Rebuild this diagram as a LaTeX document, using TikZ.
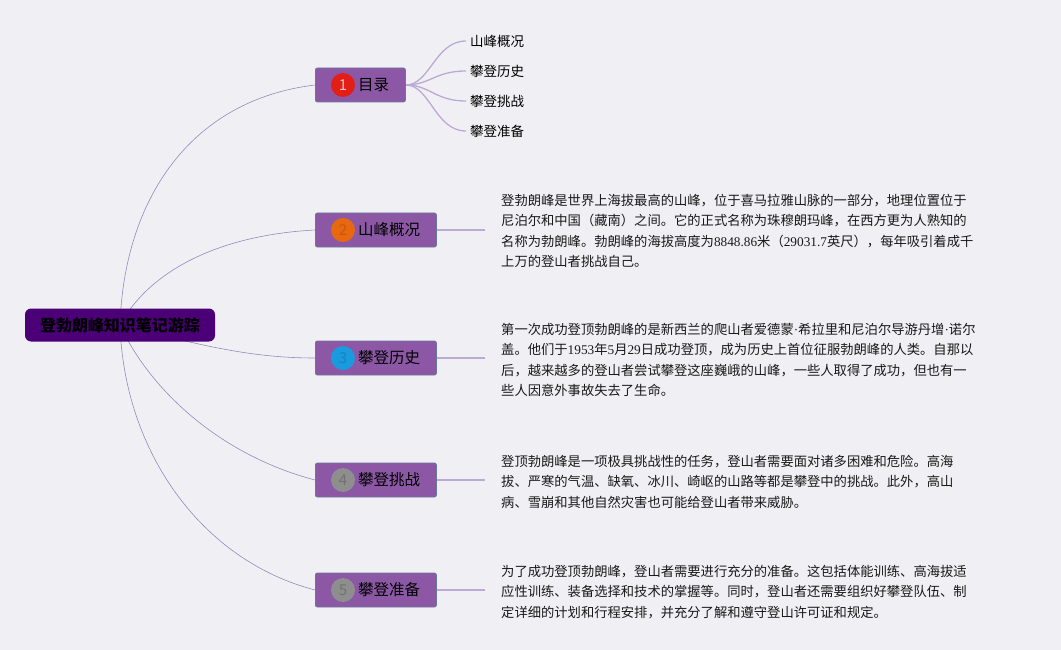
\documentclass[tikz,border=0pt]{standalone}
\usepackage{fontspec}
\setmainfont{Noto Sans CJK SC}
\newfontfamily\latin{Liberation Serif}
\newcommand{\lt}[1]{{\latin #1}}
\definecolor{bgc}{RGB}{240,240,244}
\definecolor{rootfill}{RGB}{75,0,120}
\definecolor{boxfill}{RGB}{140,88,166}
\definecolor{boxdraw}{RGB}{108,118,150}
\definecolor{rootline}{RGB}{150,136,192}
\definecolor{subline}{RGB}{188,170,214}
\definecolor{cred}{RGB}{226,30,22}
\definecolor{corange}{RGB}{232,104,16}
\definecolor{cblue}{RGB}{26,155,224}
\definecolor{cgray}{RGB}{142,142,142}
\pgfdeclarelayer{back}
\pgfdeclarelayer{mid}
\pgfsetlayers{back,mid,main}
\tikzset{
  rootbox/.style={fill=rootfill, rounded corners=6pt, minimum width=190pt, minimum height=33pt, inner sep=0pt, font=\bfseries\fontsize{16}{19}\selectfont, text=black},
  childbox/.style={anchor=west, fill=boxfill, draw=boxdraw, line width=0.8pt, rounded corners=2pt, minimum width=121pt, minimum height=34pt, inner sep=0pt},
  numcirc/.style={circle, minimum size=24pt, inner sep=0pt, font=\fontsize{15}{15}\selectfont},
  childlabel/.style={anchor=west, inner sep=0pt, font=\fontsize{15.5}{18}\selectfont, text=black},
  sublabel/.style={anchor=west, inner sep=4pt, font=\fontsize{13.5}{16}\selectfont, text=black},
  para/.style={anchor=north west, inner sep=0pt, align=left, font=\fontsize{13.3}{20.3}\selectfont, text=black!90},
  rline/.style={draw=rootline, line width=0.6pt},
  sline/.style={draw=subline, line width=1.3pt},
}
\begin{document}
\begin{tikzpicture}[x=1pt,y=-1pt]
\begin{pgfonlayer}{back}
\fill[bgc] (0,0) rectangle (1061,650);
\end{pgfonlayer}
\useasboundingbox (0,0) rectangle (1061,650);

% root
\node[rootbox] (root) at (120,325) {登勃朗峰知识笔记游踪};

% children
\node[childbox, minimum width=90pt] (c1) at (315,85) {};
\node[childbox] (c2) at (315,230) {};
\node[childbox] (c3) at (315,358) {};
\node[childbox] (c4) at (315,480) {};
\node[childbox] (c5) at (315,590) {};

\node[numcirc, fill=cred, text=red!25!white] (n1) at (343,85) {1};
\node[numcirc, fill=corange, text=corange!85!black] (n2) at (343,230) {2};
\node[numcirc, fill=cblue, text=cblue!85!black] (n3) at (343,358) {3};
\node[numcirc, fill=cgray, text=cgray!80!black] (n4) at (343,480) {4};
\node[numcirc, fill=cgray, text=cgray!80!black] (n5) at (343,590) {5};

\node[childlabel] (l1) at (358,85) {目录};
\node[childlabel] (l2) at (358,230) {山峰概况};
\node[childlabel] (l3) at (358,358) {攀登历史};
\node[childlabel] (l4) at (358,480) {攀登挑战};
\node[childlabel] (l5) at (358,590) {攀登准备};

% sub-items of 目录
\node[sublabel] (s1) at (466,41) {山峰概况};
\node[sublabel] (s2) at (466,71) {攀登历史};
\node[sublabel] (s3) at (466,101) {攀登挑战};
\node[sublabel] (s4) at (466,131) {攀登准备};

% paragraphs
\node[para] (p2) at (501,194) {登勃朗峰是世界上海拔最高的山峰，位于喜马拉雅山脉的一部分，地理位置位于\\尼泊尔和中国（藏南）之间。它的正式名称为珠穆朗玛峰，在西方更为人熟知的\\名称为勃朗峰。勃朗峰的海拔高度为\lt{8848.86}米（\lt{29031.7}英尺），每年吸引着成千\\上万的登山者挑战自己。};
\node[para] (p3) at (501,323) {第一次成功登顶勃朗峰的是新西兰的爬山者爱德蒙\lt{·}希拉里和尼泊尔导游丹增\lt{·}诺尔\\盖。他们于\lt{1953}年\lt{5}月\lt{29}日成功登顶，成为历史上首位征服勃朗峰的人类。自那以\\后，越来越多的登山者尝试攀登这座巍峨的山峰，一些人取得了成功，但也有一\\些人因意外事故失去了生命。};
\node[para] (p4) at (501,455) {登顶勃朗峰是一项极具挑战性的任务，登山者需要面对诸多困难和危险。高海\\拔、严寒的气温、缺氧、冰川、崎岖的山路等都是攀登中的挑战。此外，高山\\病、雪崩和其他自然灾害也可能给登山者带来威胁。};
\node[para] (p5) at (501,565) {为了成功登顶勃朗峰，登山者需要进行充分的准备。这包括体能训练、高海拔适\\应性训练、装备选择和技术的掌握等。同时，登山者还需要组织好攀登队伍、制\\定详细的计划和行程安排，并充分了解和遵守登山许可证和规定。};

\coordinate (e2) at (485,230);
\coordinate (e3) at (485,358);
\coordinate (e4) at (485,480);
\coordinate (e5) at (485,590);

\begin{pgfonlayer}{mid}
\path[rline] (root.center) .. controls (124,200) and (190,100) .. (c1.west);
\path[rline] (root.center) .. controls (150,270) and (220,235) .. (c2.west);
\path[rline] (root.center) .. controls (200,345) and (250,358) .. (c3.west);
\path[rline] (root.center) .. controls (150,390) and (220,455) .. (c4.west);
\path[rline] (root.center) .. controls (124,450) and (200,560) .. (c5.west);

\path[sline] (c1.east) .. controls (430,85) and (435,41) .. (s1.west);
\path[sline] (c1.east) .. controls (430,85) and (435,71) .. (s2.west);
\path[sline] (c1.east) .. controls (430,85) and (435,101) .. (s3.west);
\path[sline] (c1.east) .. controls (430,85) and (435,131) .. (s4.west);

\path[sline] (c2.east) -- (e2);
\path[sline] (c3.east) -- (e3);
\path[sline] (c4.east) -- (e4);
\path[sline] (c5.east) -- (e5);
\end{pgfonlayer}
\end{tikzpicture}
\end{document}
